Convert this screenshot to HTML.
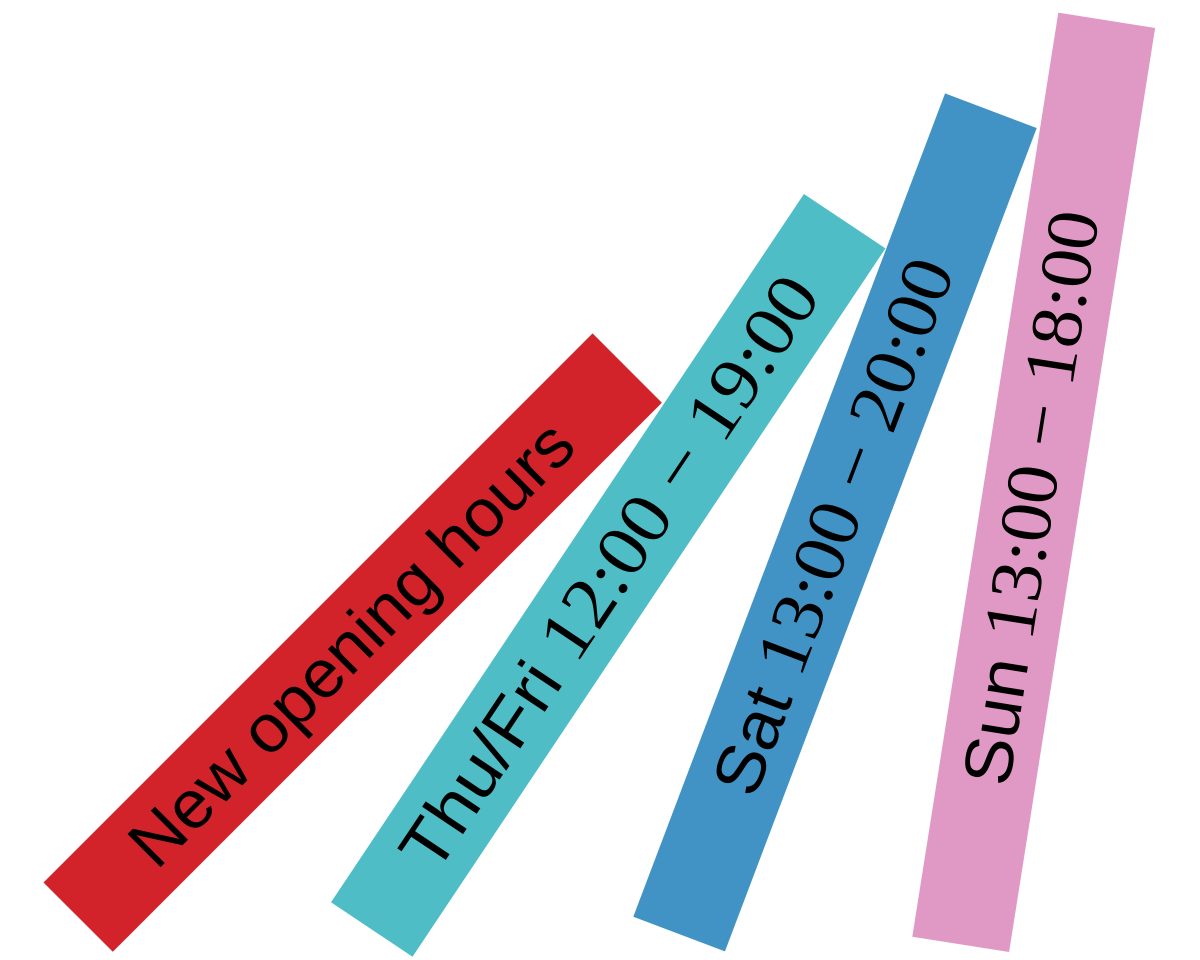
<!DOCTYPE html>
<html>
<head>
<meta charset="utf-8">
<style>
  html, body { margin: 0; padding: 0; background: #ffffff; }
  body { width: 1200px; height: 960px; overflow: hidden; }
  svg { display: block; }
  .t { font-family: "Liberation Sans", "DejaVu Sans", sans-serif; font-size: 68px; fill: #000; }
  .d { font-family: "Liberation Serif", "DejaVu Serif", serif; font-size: 73px; }
</style>
</head>
<body>
<svg width="1200" height="960" viewBox="0 0 1200 960" xmlns="http://www.w3.org/2000/svg">
  <rect x="0" y="0" width="1200" height="960" fill="#ffffff"/>

  <!-- Red band -->
  <g transform="translate(43.5,882.5) rotate(-45)">
    <rect x="0" y="0" width="776.5" height="98" fill="#d2232a"/>
    <text class="t" x="88" y="72" textLength="597" lengthAdjust="spacingAndGlyphs">New opening hours</text>
  </g>

  <!-- Teal band -->
  <g transform="translate(331,902.3) rotate(-56.27)">
    <rect x="0" y="0" width="851.7" height="98" fill="#4ebdc6"/>
    <text class="t" x="80" y="72" textLength="697" lengthAdjust="spacingAndGlyphs">Thu/Fri <tspan class="d">12:00 − 19:00</tspan></text>
  </g>

  <!-- Blue band -->
  <g transform="translate(633.3,916.7) rotate(-69.26)">
    <rect x="0" y="0" width="880.4" height="98" fill="#4293c5"/>
    <text class="t" x="152" y="72" textLength="567" lengthAdjust="spacingAndGlyphs">Sat <tspan class="d">13:00 − 20:00</tspan></text>
  </g>

  <!-- Pink band -->
  <g transform="translate(912.3,936.7) rotate(-81.02)">
    <rect x="0" y="0" width="935.5" height="98" fill="#e099c4"/>
    <text class="t" x="162" y="72" textLength="580" lengthAdjust="spacingAndGlyphs">Sun <tspan class="d">13:00 − 18:00</tspan></text>
  </g>
</svg>
</body>
</html>
